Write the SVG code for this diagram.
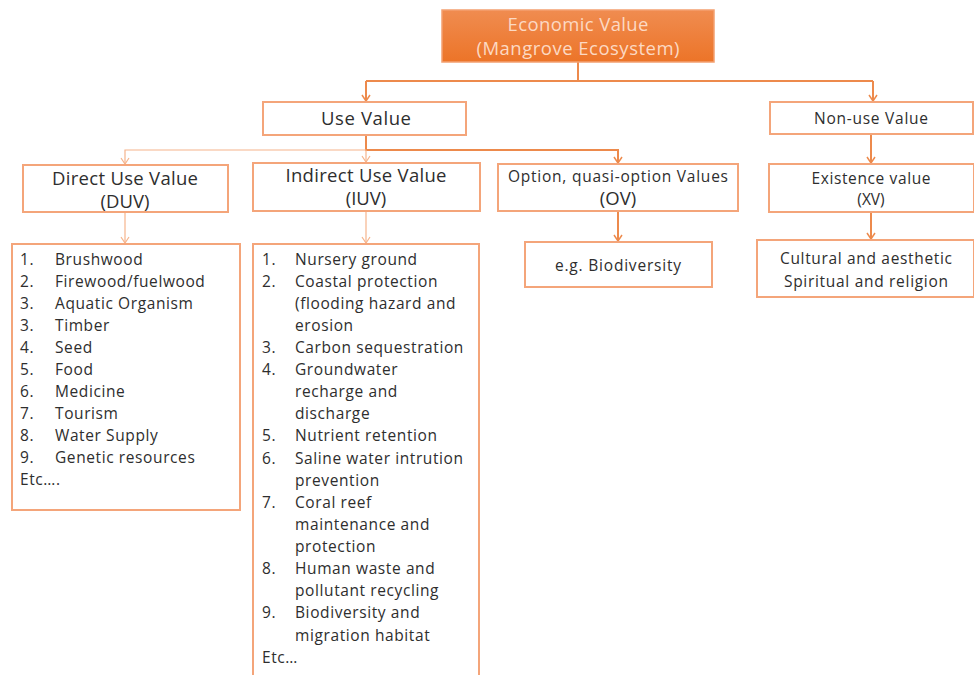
<svg xmlns="http://www.w3.org/2000/svg" width="974" height="675" viewBox="0 0 974 675">
<defs>
<linearGradient id="g" x1="0" y1="0" x2="0" y2="1">
<stop offset="0" stop-color="#f08c50"/>
<stop offset="1" stop-color="#ec7428"/>
</linearGradient>
<marker id="a" viewBox="0 0 10 10" refX="5" refY="9" markerWidth="10" markerHeight="10" markerUnits="userSpaceOnUse">
<path d="M1,3 L5,9 L9,3" fill="none" stroke="#ed8a4c" stroke-width="1.5"/>
</marker>
<marker id="b" viewBox="0 0 10 10" refX="5" refY="9" markerWidth="10" markerHeight="10" markerUnits="userSpaceOnUse">
<path d="M1,3 L5,9 L9,3" fill="none" stroke="#f6b48c" stroke-width="1.2"/>
</marker>
</defs>
<style>
.box{fill:#fff;stroke:#f4a57a;stroke-width:2}
.t{font-family:"Open Sans","DejaVu Sans",sans-serif;fill:#2e2e2e;text-anchor:middle}
.h{font-size:18.5px}
.s{font-size:15.5px}
.w{fill:#fcd9c3}
.l{font-family:"Open Sans","DejaVu Sans",sans-serif;font-size:15.5px;fill:#2e2e2e;letter-spacing:0.6px}
.c{fill:none;stroke:#ed8a4c;stroke-width:2}
.ct{fill:none;stroke:#f6b48c;stroke-width:1.2}
</style>
<g id="connectors">
<path class="c" d="M578,62 V81 M366,81 H873"/>
<path class="c" d="M366,81 V101" marker-end="url(#a)"/>
<path class="c" d="M873,81 V101" marker-end="url(#a)"/>
<path class="c" d="M366,135 V150 H618 V163" marker-end="url(#a)"/>
<path class="ct" d="M366,150 H125 V164" marker-end="url(#b)"/>
<path class="ct" d="M366,150 V162" marker-end="url(#b)"/>
<path class="c" d="M871,134 V163" marker-end="url(#a)"/>
<path class="ct" d="M125,212 V243" marker-end="url(#b)"/>
<path class="ct" d="M366,211 V243" marker-end="url(#b)"/>
<path class="c" d="M618,211 V241" marker-end="url(#a)"/>
<path class="c" d="M871,212 V239" marker-end="url(#a)"/>
</g>
<g id="economic">
<rect x="442" y="10" width="272" height="52" fill="url(#g)" stroke="#f3a070" stroke-width="1.5"/>
<text class="t h w" x="578" y="31" textLength="141">Economic Value</text>
<text class="t h w" x="578" y="55" textLength="203">(Mangrove Ecosystem)</text>
</g>
<g id="use">
<rect class="box" x="263" y="102" width="203" height="33"/>
<text class="t h" x="366" y="125" textLength="90">Use Value</text>
</g>
<g id="nonuse">
<rect class="box" x="770" y="102" width="203" height="32"/>
<text class="t s" x="871" y="124" textLength="114">Non-use Value</text>
</g>
<g id="duv">
<rect class="box" x="23" y="165" width="205" height="47"/>
<text class="t h" x="125" y="185" textLength="146">Direct Use Value</text>
<text class="t h" x="125" y="208">(DUV)</text>
</g>
<g id="iuv">
<rect class="box" x="253" y="163" width="227" height="48"/>
<text class="t h" x="366" y="182" textLength="161">Indirect Use Value</text>
<text class="t h" x="366" y="205">(IUV)</text>
</g>
<g id="ov">
<rect class="box" x="498" y="164" width="240" height="47"/>
<text class="t s" x="618" y="182" textLength="220">Option, quasi-option Values</text>
<text class="t h" x="618" y="205">(OV)</text>
</g>
<g id="xv">
<rect class="box" x="769" y="164" width="205" height="48"/>
<text class="t s" x="871" y="184" textLength="119">Existence value</text>
<text class="t s" x="871" y="205">(XV)</text>
</g>
<g id="biodiversity">
<rect class="box" x="525" y="242" width="187" height="45"/>
<text class="t s" x="618" y="271" textLength="126">e.g. Biodiversity</text>
</g>
<g id="cultural">
<rect class="box" x="757" y="240" width="217" height="57"/>
<text class="t s" x="866" y="264" textLength="172">Cultural and aesthetic</text>
<text class="t s" x="866" y="287" textLength="164">Spiritual and religion</text>
</g>
<g id="duv-list">
<rect class="box" x="12" y="244" width="228" height="266"/>
<text class="l" x="20" y="265">1.</text><text class="l" x="55" y="265">Brushwood</text>
<text class="l" x="20" y="287">2.</text><text class="l" x="55" y="287">Firewood/fuelwood</text>
<text class="l" x="20" y="309">3.</text><text class="l" x="55" y="309">Aquatic Organism</text>
<text class="l" x="20" y="331">3.</text><text class="l" x="55" y="331">Timber</text>
<text class="l" x="20" y="353">4.</text><text class="l" x="55" y="353">Seed</text>
<text class="l" x="20" y="375">5.</text><text class="l" x="55" y="375">Food</text>
<text class="l" x="20" y="397">6.</text><text class="l" x="55" y="397">Medicine</text>
<text class="l" x="20" y="419">7.</text><text class="l" x="55" y="419">Tourism</text>
<text class="l" x="20" y="441">8.</text><text class="l" x="55" y="441">Water Supply</text>
<text class="l" x="20" y="463">9.</text><text class="l" x="55" y="463">Genetic resources</text>
<text class="l" x="20" y="485">Etc….</text>
</g>
<g id="iuv-list">
<rect class="box" x="253" y="244" width="226" height="440"/>
<text class="l" x="262" y="265">1.</text><text class="l" x="295" y="265">Nursery ground</text>
<text class="l" x="262" y="287">2.</text><text class="l" x="295" y="287">Coastal protection</text>
<text class="l" x="295" y="309">(flooding hazard and</text>
<text class="l" x="295" y="331">erosion</text>
<text class="l" x="262" y="353">3.</text><text class="l" x="295" y="353">Carbon sequestration</text>
<text class="l" x="262" y="375">4.</text><text class="l" x="295" y="375">Groundwater</text>
<text class="l" x="295" y="397">recharge and</text>
<text class="l" x="295" y="419">discharge</text>
<text class="l" x="262" y="441">5.</text><text class="l" x="295" y="441">Nutrient retention</text>
<text class="l" x="262" y="464">6.</text><text class="l" x="295" y="464">Saline water intrution</text>
<text class="l" x="295" y="486">prevention</text>
<text class="l" x="262" y="508">7.</text><text class="l" x="295" y="508">Coral reef</text>
<text class="l" x="295" y="530">maintenance and</text>
<text class="l" x="295" y="552">protection</text>
<text class="l" x="262" y="574">8.</text><text class="l" x="295" y="574">Human waste and</text>
<text class="l" x="295" y="596">pollutant recycling</text>
<text class="l" x="262" y="618">9.</text><text class="l" x="295" y="618">Biodiversity and</text>
<text class="l" x="295" y="641">migration habitat</text>
<text class="l" x="262" y="663">Etc…</text>
</g>
</svg>
